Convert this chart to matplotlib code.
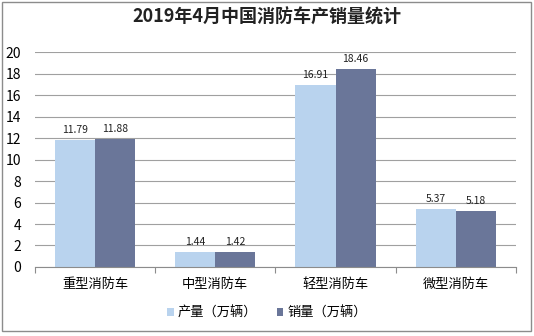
import numpy as np
import matplotlib.pyplot as plt
from matplotlib.patches import Rectangle

plt.rcParams['font.family'] = ['Noto Sans CJK SC', 'DejaVu Sans']

# 车型与产销数据（万辆）
categories = ['重型消防车', '中型消防车', '轻型消防车', '微型消防车']
production = [11.79, 1.44, 16.91, 5.37]
sales = [11.88, 1.42, 18.46, 5.18]
series_names = ['产量（万辆）', '销量（万辆）']

c_prod = '#B9D3EE'
c_sales = '#6A7699'

fig = plt.figure(figsize=(5.34, 3.36), dpi=100)
fig.patches.append(Rectangle((0.004, 0.015), 0.991, 0.978, transform=fig.transFigure,
                             fill=False, edgecolor='#8c8c8c', linewidth=1.0))
ax = fig.add_axes([0.0655, 0.2054, 0.9005, 0.6396])

x = np.arange(len(categories))
w = 0.333
b1 = ax.bar(x - w / 2, production, w, color=c_prod, label=series_names[0], zorder=2)
b2 = ax.bar(x + w / 2, sales, w, color=c_sales, label=series_names[1], zorder=2)

for bars, vals in ((b1, production), (b2, sales)):
    for r, v in zip(bars, vals):
        ax.text(r.get_x() + r.get_width() / 2, v + 0.45, f'{v:.2f}',
                ha='center', va='bottom', fontsize=7.5, color='#222222')

ax.set_xlim(-0.5, 3.5)
ax.set_ylim(0, 20)
ax.set_yticks(range(0, 21, 2))
ax.yaxis.grid(True, color='#a0a0a0', linewidth=0.8, zorder=0)
ax.set_axisbelow(True)
for s in ['top', 'right', 'left']:
    ax.spines[s].set_visible(False)
ax.spines['bottom'].set_color('#8c8c8c')
ax.tick_params(axis='y', length=0, labelsize=10, pad=10)
ax.set_xticks(np.arange(-0.5, 4, 1))
ax.set_xticklabels([])
ax.set_xticks(x, minor=True)
ax.set_xticklabels(categories, minor=True)
ax.tick_params(axis='x', which='major', length=4, color='#8c8c8c', direction='out')
ax.tick_params(axis='x', which='minor', length=0, labelsize=9.5, pad=8)

fig.suptitle('2019年4月中国消防车产销量统计', y=0.978, fontsize=13, fontweight='bold',
             color='#222222')
fig.legend(handles=[b1, b2], loc='center', bbox_to_anchor=(0.5, 0.068), ncol=2,
           frameon=False, fontsize=9.5, handlelength=0.5, handleheight=0.5,
           handletextpad=0.3, columnspacing=1.5)

fig.savefig('out.png', dpi=100)
